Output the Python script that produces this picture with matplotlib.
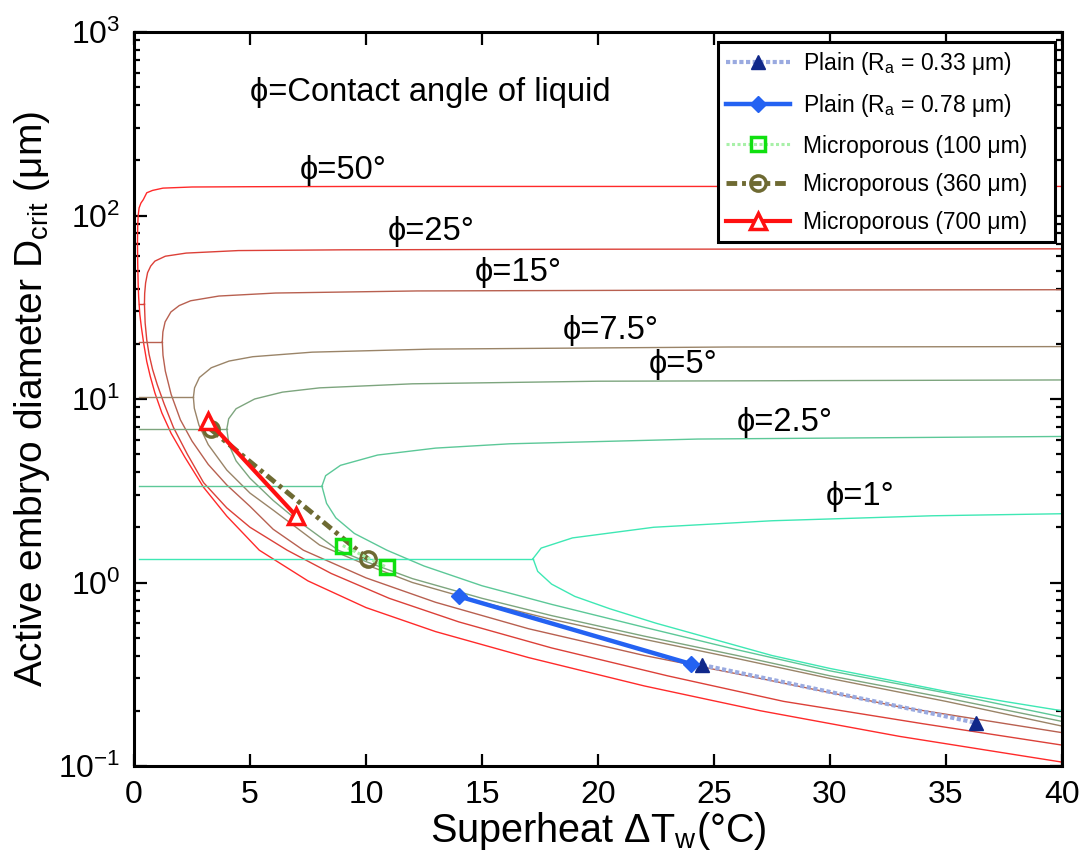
import matplotlib
matplotlib.use('Agg')
import matplotlib.pyplot as plt
from matplotlib.ticker import LogLocator, NullFormatter, MultipleLocator

plt.rcParams['font.family'] = ['Liberation Sans', 'DejaVu Sans']
plt.rcParams['mathtext.fontset'] = 'custom'
plt.rcParams['mathtext.rm'] = 'Liberation Sans'
plt.rcParams['mathtext.it'] = 'Liberation Sans:italic'
plt.rcParams['mathtext.default'] = 'regular'

# ---------------- data ----------------
angle_labels = ['50', '25', '15', '7.5', '5', '2.5', '1']

# horizontal (left) segments of each contact-angle curve
horiz_x = [None, [0.2, 0.45], [0.2, 1.22], [0.2, 2.56], [0.2, 4.0], [0.2, 8.1], [0.2, 17.2]]
horiz_D = [None, [33, 33], [20.5, 20.5], [10.2, 10.2], [6.85, 6.85], [3.35, 3.35], [1.35, 1.35]]

# upper branches
upper_x_50 = [0.15, 0.16, 0.18, 0.22, 0.3, 0.4, 0.55, 0.8, 1.25, 2.5, 5, 10, 20, 40]
upper_D_50 = [71, 88, 100, 110, 117, 122, 133, 137, 141, 143, 143.5, 144, 144, 144]
upper_x_25 = [0.45, 0.46, 0.5, 0.585, 0.72, 0.9, 1.35, 2.25, 4.5, 9, 20, 40]
upper_D_25 = [33, 37.6, 42.9, 48.8, 53, 56.4, 60, 62.4, 64.4, 65, 65.5, 65.8]
upper_x_15 = [1.22, 1.245, 1.34, 1.59, 1.95, 2.44, 3.66, 6.1, 12.2, 24.4, 40]
upper_D_15 = [20.5, 23.2, 26.3, 29.8, 32.3, 34.3, 36.4, 37.8, 38.8, 39.2, 39.4]
upper_x_7p5 = [2.56, 2.61, 2.82, 3.33, 4.1, 5.12, 7.68, 12.8, 25.6, 40]
upper_D_7p5 = [10.2, 11.5, 13.1, 14.8, 16.1, 17.0, 18.0, 18.7, 19.2, 19.3]
upper_x_5 = [4.0, 4.08, 4.4, 5.2, 6.4, 8, 12, 20, 40]
upper_D_5 = [6.85, 7.8, 8.85, 10.0, 10.9, 11.5, 12.1, 12.5, 12.7]
upper_x_2p5 = [8.1, 8.26, 8.9, 10.5, 13, 16.2, 24.3, 40]
upper_D_2p5 = [3.35, 3.82, 4.35, 4.95, 5.4, 5.7, 6.05, 6.25]
upper_x_1 = [17.2, 17.55, 18.9, 22.4, 27.5, 34.4, 40]
upper_D_1 = [1.35, 1.54, 1.75, 2.0, 2.17, 2.31, 2.37]

# lower branches
lower_x_50 = [0.15, 0.16, 0.18, 0.2, 0.25, 0.32, 0.42, 0.55, 0.7, 0.9, 1.2, 1.6, 2.2, 3, 4, 5.4, 7.5, 10, 13, 17, 22, 27, 33, 40]
lower_D_50 = [71, 55, 42, 36, 29, 24.5, 20, 16, 13.3, 10.8, 8.4, 6.5, 4.8, 3.3, 2.3, 1.5, 1.02, 0.73, 0.54, 0.39, 0.273, 0.2, 0.145, 0.105]
lower_x_25 = [0.45, 0.48, 0.55, 0.65, 0.8, 1.0, 1.3, 1.7, 2.3, 3, 4, 5, 6.6, 8.5, 11, 14, 18, 23, 28, 34, 40]
lower_D_25 = [33, 26, 21, 17.5, 14.5, 12, 9.4, 7.0, 5.0, 3.5, 2.55, 2.0, 1.5, 1.12, 0.82, 0.61, 0.44, 0.31, 0.225, 0.17, 0.13]
lower_x_15 = [1.22, 1.25, 1.35, 1.6, 2.0, 2.5, 3.2, 4, 5, 6, 7.3, 10, 13, 17, 22, 27, 33, 40]
lower_D_15 = [20.5, 17.3, 14.2, 10.6, 7.7, 5.9, 4.4, 3.4, 2.6, 1.95, 1.5, 1.06, 0.78, 0.56, 0.4, 0.3, 0.21, 0.152]
lower_x_7p5 = [2.56, 2.6, 2.8, 3.2, 4, 5, 6, 8, 10, 12, 15, 18, 22, 26, 30, 35, 40]
lower_D_7p5 = [10.2, 8.9, 7.2, 5.64, 4.1, 3.07, 2.48, 1.6, 1.25, 1.0, 0.78, 0.63, 0.49, 0.385, 0.3, 0.225, 0.165]
lower_x_5 = [4.0, 4.1, 4.4, 5, 6, 7, 8.8, 10, 12, 15, 18, 22, 26, 30, 35, 40]
lower_D_5 = [6.85, 5.6, 4.6, 3.7, 2.8, 2.2, 1.5, 1.3, 1.05, 0.82, 0.66, 0.51, 0.4, 0.31, 0.235, 0.175]
lower_x_2p5 = [8.1, 8.3, 8.7, 9.5, 10.9, 12.5, 15, 18, 22, 26, 30, 35, 40]
lower_D_2p5 = [3.35, 2.7, 2.25, 1.85, 1.5, 1.23, 0.96, 0.76, 0.57, 0.43, 0.33, 0.25, 0.185]
lower_x_1 = [17.2, 17.4, 18, 19, 20.5, 22.5, 25, 27.5, 30, 32.5, 35, 37.5, 40]
lower_D_1 = [1.35, 1.15, 0.98, 0.84, 0.72, 0.6, 0.49, 0.4, 0.34, 0.295, 0.255, 0.225, 0.2]

upper_x = [upper_x_50, upper_x_25, upper_x_15, upper_x_7p5, upper_x_5, upper_x_2p5, upper_x_1]
upper_D = [upper_D_50, upper_D_25, upper_D_15, upper_D_7p5, upper_D_5, upper_D_2p5, upper_D_1]
lower_x = [lower_x_50, lower_x_25, lower_x_15, lower_x_7p5, lower_x_5, lower_x_2p5, lower_x_1]
lower_D = [lower_D_50, lower_D_25, lower_D_15, lower_D_7p5, lower_D_5, lower_D_2p5, lower_D_1]

# experimental data
plain033_x = [24.5, 36.3]
plain033_D = [0.355, 0.172]
plain078_x = [14.0, 24.0]
plain078_D = [0.84, 0.36]
micro100_x = [9.0, 10.9]
micro100_D = [1.59, 1.21]
micro360_x = [3.3, 10.1]
micro360_D = [6.85, 1.34]
micro700_x = [3.2, 7.0]
micro700_D = [7.6, 2.3]

series_labels = ['Plain (R$_a$ = 0.33 μm)', 'Plain (R$_a$ = 0.78 μm)',
                 'Microporous (100 μm)', 'Microporous (360 μm)', 'Microporous (700 μm)']

# ---------------- styles ----------------
curve_colors = ['#ff2a2a', '#dc4038', '#b86050', '#9a8468', '#7da57e', '#5cc898', '#3ee8b4']
label_pos = [(7.15, 175), (10.95, 82), (14.7, 49), (18.5, 23.5), (22.2, 15.5), (26.0, 7.4), (29.8, 2.95)]

fig = plt.figure(figsize=(10.86, 8.56), dpi=100)
ax = fig.add_axes([134 / 1086, 1 - 766 / 856, (1062 - 134) / 1086, (766 - 32) / 856])

for i in range(len(angle_labels)):
    c = curve_colors[i]
    if horiz_x[i] is not None:
        ax.plot(horiz_x[i], horiz_D[i], color=c, lw=1.0, zorder=2)
    ax.plot(upper_x[i], upper_D[i], color=c, lw=1.0, zorder=2)
    ax.plot(lower_x[i], lower_D[i], color=c, lw=1.0, zorder=2)
    ax.text(label_pos[i][0], label_pos[i][1], 'ϕ=' + angle_labels[i] + '°',
            fontsize=23.5, ha='left', va='center', zorder=5)

ax.text(5.0, 470, 'ϕ=Contact angle of liquid', fontsize=23.5, ha='left', va='center')

ax.plot(plain033_x, plain033_D, linestyle=(0, (1, 0.6)), color='#9aaae0', lw=3,
        marker='^', ms=10, mfc='#10288a', mec='#10288a', label=series_labels[0], zorder=6)
ax.plot(plain078_x, plain078_D, linestyle='-', color='#2462f2', lw=3.2,
        marker='D', ms=8, mfc='#2462f2', mec='#2462f2', label=series_labels[1], zorder=6)
ax.plot(micro100_x, micro100_D, linestyle=(0, (1, 0.8)), color='#a8f0a8', lw=2.2,
        marker='s', ms=10, mfc='none', mec='#10e010', mew=2.5, label=series_labels[2], zorder=7)
ax.plot(micro360_x, micro360_D, linestyle=(0, (2.2, 1.0, 0.8, 1.0)), color='#6e6a32', lw=3.5,
        marker='o', ms=11, mfc='none', mec='#6e6a32', mew=2.5, label=series_labels[3], zorder=6)
ax.plot(micro700_x, micro700_D, linestyle='-', color='#ff1010', lw=3,
        marker='^', ms=12, mfc='white', mec='#ff1010', mew=2.5, label=series_labels[4], zorder=6)

ax.set_yscale('log')
ax.set_xlim(0, 40)
ax.set_ylim(0.1, 1000)
ax.xaxis.set_major_locator(MultipleLocator(5))
ax.yaxis.set_major_locator(LogLocator(base=10, numticks=10))
ax.yaxis.set_minor_locator(LogLocator(base=10, subs=tuple(range(2, 10)), numticks=20))
ax.yaxis.set_minor_formatter(NullFormatter())
ax.tick_params(which='both', direction='in', top=True, right=True, labelsize=23, width=1.6)
ax.tick_params(which='major', length=9, pad=10)
ax.tick_params(which='minor', length=4.5)
for s in ax.spines.values():
    s.set_linewidth(2.2)

ax.set_xlabel('Superheat ΔT$_w$(°C)', fontsize=28.5, labelpad=0)
ax.set_ylabel('Active embryo diameter D$_{crit}$ (μm)', fontsize=28, labelpad=4)

leg_x0 = (718 - 134) / 928
leg_w = (1055 - 718) / 928
leg_top = 1 - 10 / 734
leg = ax.legend(loc='upper left', bbox_to_anchor=(leg_x0, 0.5, leg_w, leg_top - 0.5),
                mode='expand', borderaxespad=0, fontsize=16.5, frameon=True, fancybox=False,
                edgecolor='black', handlelength=2.8, labelspacing=0.665,
                handletextpad=0.55, borderpad=0.35)
leg.get_frame().set_linewidth(2.2)
leg.get_frame().set_alpha(1)

fig.savefig('out.png', dpi=100)
